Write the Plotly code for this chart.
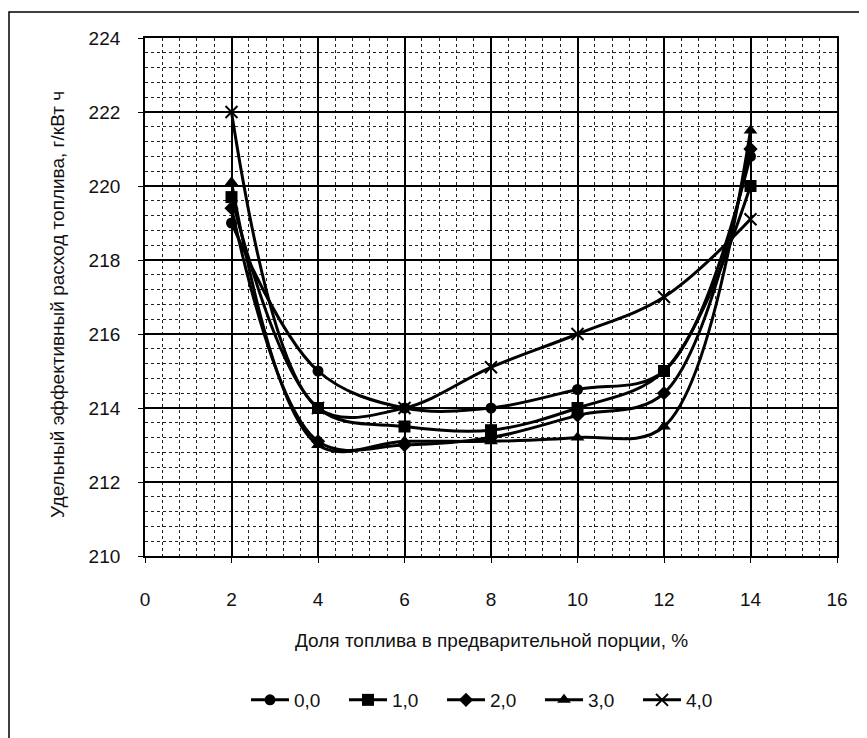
import plotly.graph_objects as go

x_vals = [2, 4, 6, 8, 10, 12, 14]
series_names = ["0,0", "1,0", "2,0", "3,0", "4,0"]
s00 = [219.0, 215.0, 214.0, 214.0, 214.5, 215.0, 220.8]
s10 = [219.7, 214.0, 213.5, 213.4, 214.0, 215.0, 220.0]
s20 = [219.4, 213.1, 213.0, 213.2, 213.8, 214.4, 221.0]
s30 = [220.1, 213.0, 213.1, 213.1, 213.2, 213.5, 221.5]
s40 = [222.0, 214.0, 214.0, 215.1, 216.0, 217.0, 219.1]
x_ticks = [0, 2, 4, 6, 8, 10, 12, 14, 16]
y_ticks = [210, 212, 214, 216, 218, 220, 222, 224]

symbols = ["circle", "square", "diamond", "triangle-up", "x-thin-open"]
sizes = [11, 12, 11, 12, 12]
all_series = [s00, s10, s20, s30, s40]

FONT = "Liberation Sans"

# page body has an 8px margin: plot area should sit at x 145..837, y 38..556 in the window
L, T, PW, PH = 137, 30, 692, 518
W, H = 859, 730

fig = go.Figure()
for name, ys, sym, sz in zip(series_names, all_series, symbols, sizes):
    fig.add_trace(go.Scatter(
        x=x_vals, y=ys, name=name, mode="lines+markers",
        line=dict(color="black", width=3, shape="spline", smoothing=1.0),
        marker=dict(symbol=sym, size=sz, color="black",
                    line=dict(color="black", width=2 if sym.startswith("x") else 0)),
    ))

fig.update_layout(
    width=W, height=H,
    margin=dict(l=L, r=W - L - PW, t=T, b=H - T - PH),
    paper_bgcolor="white", plot_bgcolor="white",
    font=dict(family=FONT, color="#111", size=19),
    showlegend=True,
    legend=dict(orientation="h", x=0.5, xanchor="center", y=-(700 - 556) / PH, yanchor="middle",
                font=dict(size=19, family=FONT, color="#111"), itemwidth=38,
                entrywidth=45, entrywidthmode="pixels", traceorder="normal"),
)

fig.update_xaxes(
    range=[0, 16], tickvals=x_ticks, ticktext=[str(v) for v in x_ticks],
    showgrid=True, gridcolor="black", gridwidth=1.8,
    minor=dict(dtick=0.4, tick0=0, showgrid=True, gridcolor="#222", gridwidth=1, griddash="dot"),
    showline=True, linecolor="black", linewidth=1.8, mirror=True,
    ticks="outside", ticklen=5, tickcolor="black",
    ticklabelstandoff=20, zeroline=False, tickfont=dict(size=19),
)
fig.update_yaxes(
    range=[210, 224], tickvals=y_ticks, ticktext=[str(v) for v in y_ticks],
    showgrid=True, gridcolor="black", gridwidth=1.8,
    minor=dict(dtick=0.4, tick0=210, showgrid=True, gridcolor="#222", gridwidth=1, griddash="dot"),
    showline=True, linecolor="black", linewidth=1.8, mirror=True,
    ticks="outside", ticklen=5, tickcolor="black",
    ticklabelstandoff=14, zeroline=False, tickfont=dict(size=19),
)

fig.add_annotation(
    text="Доля топлива в предварительной порции, %", xref="paper", yref="paper",
    x=0.5, y=0, yshift=-84, xanchor="center", yanchor="middle", showarrow=False,
    font=dict(size=19, family=FONT, color="#111"),
)
fig.add_annotation(
    text="Удельный эффективный расход топлива, г/кВт ч", xref="paper", yref="paper",
    x=0, xshift=-88, y=0.5, yshift=-8, xanchor="center", yanchor="middle", showarrow=False,
    textangle=-90, font=dict(size=19, family=FONT, color="#111"),
)

# chart-area border (left and top edges visible, as in the scanned original)
fig.add_shape(type="rect", xref="paper", yref="paper",
              x0=(-L + 1) / PW, x1=1.3, y0=-0.6, y1=1 + 26 / PH,
              line=dict(color="black", width=1.5), fillcolor="rgba(0,0,0,0)", layer="below")

fig.write_html("out.html")
